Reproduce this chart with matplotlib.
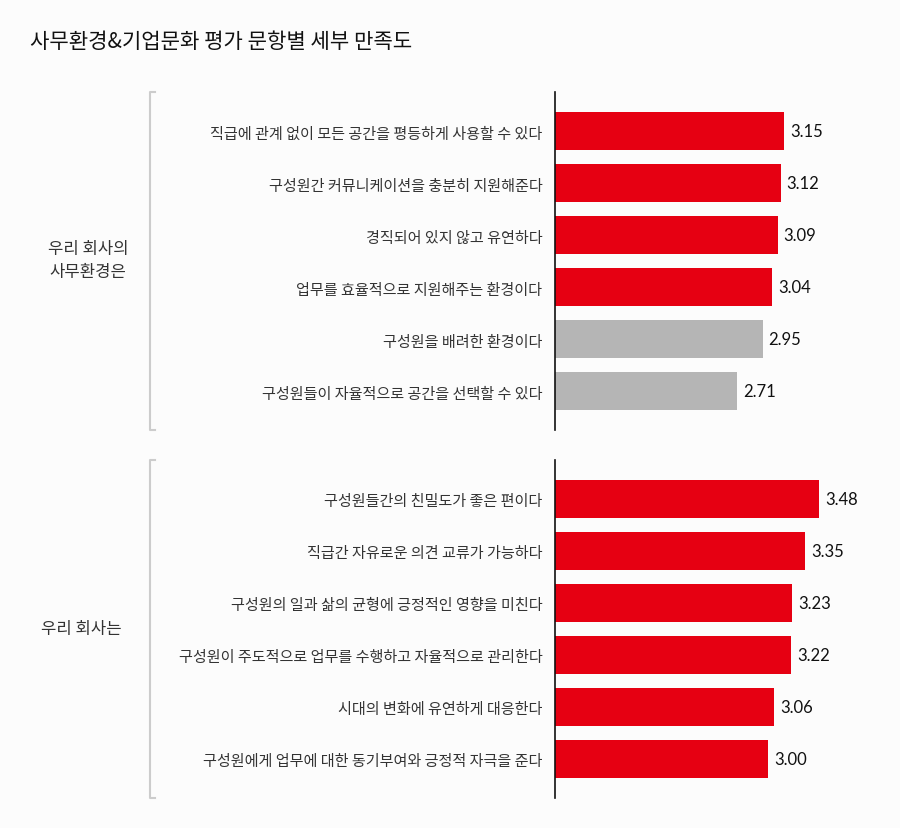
import matplotlib.pyplot as plt
from matplotlib.lines import Line2D

plt.rcParams['font.family'] = ['Noto Sans CJK KR', 'DejaVu Sans']

title = '사무환경&기업문화 평가 문항별 세부 만족도'

group1 = '우리 회사의\n사무환경은'
items1 = ['직급에 관계 없이 모든 공간을 평등하게 사용할 수 있다',
          '구성원간 커뮤니케이션을 충분히 지원해준다',
          '경직되어 있지 않고 유연하다',
          '업무를 효율적으로 지원해주는 환경이다',
          '구성원을 배려한 환경이다',
          '구성원들이 자율적으로 공간을 선택할 수 있다']
scores1 = [3.15, 3.12, 3.09, 3.04, 2.95, 2.71]

group2 = '우리 회사는'
items2 = ['구성원들간의 친밀도가 좋은 편이다',
          '직급간 자유로운 의견 교류가 가능하다',
          '구성원의 일과 삶의 균형에 긍정적인 영향을 미친다',
          '구성원이 주도적으로 업무를 수행하고 자율적으로 관리한다',
          '시대의 변화에 유연하게 대응한다',
          '구성원에게 업무에 대한 동기부여와 긍정적 자극을 준다']
scores2 = [3.48, 3.35, 3.23, 3.22, 3.06, 3.00]

RED = '#e60012'
GRAY = '#b5b5b5'
BG = '#fcfcfc'
W, H = 900, 829

fig = plt.figure(figsize=(9, 8.29), dpi=100, facecolor=BG)

fig.text(30 / W, 1 - 42 / H, title, fontsize=15.2, fontweight='medium',
         color='#111111', va='center', ha='left')


def panel(top, bottom, items, scores, group, group_x, group_y):
    ax = fig.add_axes([555 / W, 1 - bottom / H, (W - 555) / W, (bottom - top) / H])
    ax.set_facecolor('none')
    n = len(items)
    ys = list(range(n))
    colors = [GRAY if s < 3 else RED for s in scores]
    ax.barh(ys, [s - 1 for s in scores], left=1, height=0.73, color=colors)
    ax.set_xlim(1, 1 + (W - 555) / 106.5)
    ax.set_ylim(n - 0.25, -0.75)
    for y, s in zip(ys, scores):
        ax.text(s + 0.055, y, f'{s:.2f}', va='center', ha='left', fontsize=12,
                family=['Lato', 'DejaVu Sans'], color='#111111')
    ax.set_yticks(ys)
    ax.set_yticklabels(items, fontsize=10.9, color='#333333')
    ax.tick_params(axis='y', length=0, pad=9)
    ax.set_xticks([])
    for side in ['top', 'right', 'bottom']:
        ax.spines[side].set_visible(False)
    ax.spines['left'].set_color('#111111')
    ax.spines['left'].set_linewidth(1.2)
    # bracket on the left
    bx = 150 / W
    bx2 = 155 / W
    yt = 1 - top / H
    yb = 1 - bottom / H
    fig.add_artist(Line2D([bx2, bx, bx, bx2], [yt, yt, yb, yb], color='#cccccc', lw=1.5))
    fig.text(group_x / W, 1 - group_y / H, group, fontsize=12, color='#333333',
             ha='center', va='center', linespacing=1.5)


panel(93, 431, items1, scores1, group1, 88, 261)
panel(461, 799, items2, scores2, group2, 81, 630)

fig.savefig('out.png', dpi=100, facecolor=BG)
